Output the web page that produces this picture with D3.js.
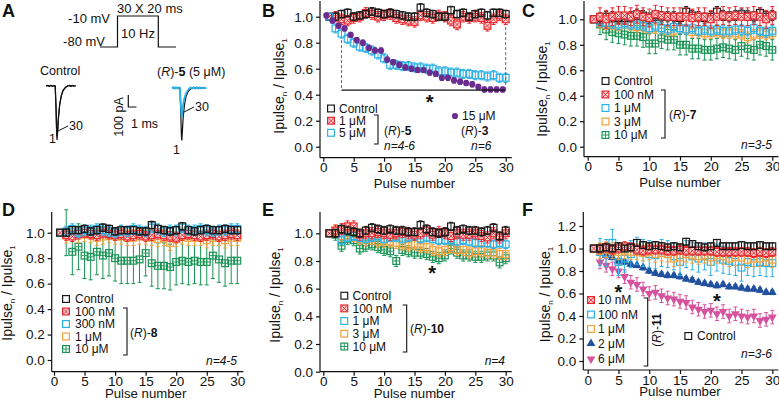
<!DOCTYPE html>
<html>
<head>
<meta charset="utf-8">
<script src="https://cdn.jsdelivr.net/npm/d3@7"></script>
<style>
  body { margin: 0; background: #fff; }
  text { font-family: "Liberation Sans", Arial, sans-serif; fill: #111; }
</style>
</head>
<body>
<svg id="fig" width="779" height="401"></svg>
<script>
const pulses = d3.range(1, 31)
const xTicks = [0, 5, 10, 15, 20, 25, 30]
const yTicks = [0, 0.2, 0.4, 0.6, 0.8, 1.0]
const yTicksF = [0, 0.2, 0.4, 0.6, 0.8, 1.0, 1.2]

// panel B
const bControl = [1.00,1.00,1.02,1.03,1.00,1.01,1.02,1.04,1.03,1.02,1.03,1.02,1.01,1.00,1.00,1.07,1.03,1.02,1.00,1.00,1.05,1.02,1.03,1.00,1.02,1.03,1.01,1.03,1.03,1.02]
const bR5_1uM = [1.00,1.00,0.98,0.97,0.99,1.00,1.03,1.02,1.00,1.01,1.02,0.99,0.98,0.97,0.96,1.01,1.00,0.99,1.01,1.00,0.97,0.94,1.00,0.99,1.00,0.99,0.93,0.98,1.01,0.98]
const bR5_5uM = [1.00,0.91,0.87,0.83,0.80,0.77,0.76,0.74,0.71,0.68,0.63,0.63,0.62,0.62,0.61,0.61,0.60,0.60,0.58,0.58,0.57,0.57,0.56,0.56,0.55,0.55,0.54,0.55,0.53,0.53]
const bR3_15uM = [1.01,0.97,0.93,0.91,0.86,0.82,0.80,0.76,0.74,0.74,0.67,0.65,0.63,0.61,0.60,0.59,0.59,0.57,0.56,0.53,0.53,0.51,0.50,0.49,0.48,0.46,0.44,0.44,0.44,0.44]

// panel C
const cControl = [1.00,1.01,1.02,1.02,1.01,1.01,1.02,1.04,1.03,1.01,1.03,1.02,1.02,1.02,1.01,1.06,1.03,1.02,1.01,1.02,1.06,1.03,1.02,1.03,1.04,1.03,1.02,1.05,1.02,1.03]
const cR7_100nM = [1.00,1.02,1.00,1.02,1.03,1.03,1.02,1.04,1.02,1.01,1.04,1.03,1.02,1.02,1.02,1.02,1.01,1.02,1.02,1.00,1.02,1.03,1.02,1.03,1.02,1.02,1.03,1.02,1.00,1.03]
const cR7_1uM = [1.00,0.98,0.97,0.97,0.96,0.97,0.96,0.96,0.95,0.93,0.95,0.93,0.92,0.94,0.93,0.92,0.93,0.91,0.92,0.91,0.92,0.91,0.91,0.92,0.92,0.91,0.93,0.91,0.90,0.91]
const cR7_3uM = [1.00,0.97,0.96,0.96,0.95,0.97,0.95,0.94,0.94,0.92,0.93,0.93,0.91,0.91,0.93,0.92,0.90,0.90,0.89,0.89,0.90,0.89,0.89,0.89,0.88,0.86,0.88,0.89,0.88,0.89]
const cR7_10uM = [1.00,0.96,0.92,0.90,0.89,0.88,0.87,0.87,0.86,0.81,0.81,0.85,0.84,0.84,0.80,0.80,0.77,0.77,0.76,0.76,0.77,0.78,0.77,0.76,0.79,0.77,0.76,0.80,0.79,0.76]

// panel D
const dControl = [1.00,1.00,1.02,1.02,1.03,1.01,1.02,1.04,1.03,1.01,1.02,1.02,1.02,1.01,1.01,1.06,1.03,1.02,1.01,1.02,1.05,1.02,1.01,1.02,1.03,1.02,1.02,1.03,1.02,1.02]
const dR8_100nM = [1.00,0.98,0.97,0.99,1.00,0.99,0.98,1.00,0.99,0.98,0.99,0.97,0.98,0.99,0.97,0.98,0.99,0.98,0.97,0.96,0.98,0.99,0.98,0.97,0.98,0.99,0.97,0.98,0.99,0.98]
const dR8_300nM = [1.00,1.01,1.03,1.00,1.02,1.02,1.03,1.02,1.01,1.00,1.02,1.01,1.03,1.02,1.01,1.04,1.03,1.01,1.02,1.02,1.04,1.02,1.02,1.03,1.02,1.01,1.02,1.02,1.03,1.03]
const dR8_1uM = [1.00,0.98,0.99,0.98,0.99,0.98,0.96,0.97,0.98,0.97,0.97,0.96,0.96,0.97,0.97,0.96,0.95,0.96,0.92,0.95,0.97,0.96,0.96,0.96,0.94,0.96,0.96,0.94,0.96,0.96]
const dR8_10uM = [1.00,1.00,0.85,0.89,0.82,0.81,0.85,0.82,0.84,0.80,0.78,0.78,0.78,0.79,0.84,0.76,0.74,0.74,0.73,0.77,0.78,0.77,0.78,0.77,0.77,0.82,0.79,0.76,0.78,0.78]

// panel E
const eControl = [1.00,1.00,1.03,1.02,1.01,1.00,1.02,1.04,1.03,1.02,1.03,1.02,1.02,1.01,1.01,1.06,1.03,1.01,1.00,1.01,1.05,1.02,1.03,1.02,1.02,1.01,1.02,1.04,0.98,1.02]
const eR10_100nM = [1.00,1.02,1.03,1.05,1.05,0.99,1.00,1.00,1.01,1.00,0.99,1.00,1.01,1.00,0.99,1.00,1.02,0.99,1.01,1.00,0.98,1.00,0.99,0.99,1.00,0.98,0.97,1.00,0.97,1.00]
const eR10_1uM = [1.00,1.00,0.95,0.97,0.98,0.97,0.96,0.97,0.98,0.96,0.97,0.97,0.96,0.97,0.98,0.96,0.97,0.96,0.95,0.95,0.95,0.94,0.95,0.94,0.93,0.93,0.93,0.92,0.93,0.92]
const eR10_3uM = [1.00,1.02,0.98,1.00,0.98,0.96,0.95,0.96,0.94,0.94,0.94,0.93,0.92,0.91,0.92,0.90,0.90,0.88,0.87,0.88,0.90,0.88,0.88,0.86,0.87,0.87,0.86,0.86,0.85,0.85]
const eR10_10uM = [1.00,0.99,0.91,0.96,0.95,0.89,0.91,0.92,0.90,0.88,0.87,0.80,0.88,0.87,0.86,0.86,0.85,0.83,0.82,0.84,0.89,0.86,0.84,0.84,0.83,0.83,0.84,0.84,0.79,0.82]

// panel F
const fControl = [1.00,1.00,1.01,1.00,1.02,1.00,1.01,1.05,1.03,1.02,1.03,1.02,1.01,1.02,1.01,1.06,1.04,1.02,1.01,1.02,1.05,1.02,1.02,1.02,1.03,1.02,1.02,1.03,1.02,1.02]
const fR11_10nM = [1.00,1.00,1.01,0.99,1.00,1.02,1.01,0.99,0.98,0.99,0.99,0.99,0.98,0.98,0.99,0.98,0.98,0.98,0.98,0.98,0.97,0.97,0.97,0.97,0.97,0.97,0.96,0.97,0.96,0.97]
const fR11_100nM = [1.00,0.97,0.96,1.05,0.88,0.91,0.95,0.98,0.96,0.95,0.94,0.96,0.95,0.93,0.88,0.95,0.93,0.91,0.93,0.88,0.92,0.90,0.89,0.88,0.83,0.88,0.87,0.88,0.87,0.87]
const fR11_1uM = [1.00,0.98,0.99,0.98,0.97,0.98,0.97,0.97,0.96,0.97,0.95,0.96,0.95,0.91,0.92,0.95,0.94,0.93,0.94,0.92,0.94,0.93,0.91,0.92,0.92,0.90,0.91,0.91,0.92,0.90]
const fR11_2uM = [1.00,0.96,0.94,0.92,0.89,0.88,0.86,0.85,0.83,0.80,0.78,0.77,0.76,0.76,0.75,0.73,0.72,0.70,0.69,0.68,0.67,0.68,0.66,0.66,0.65,0.64,0.64,0.63,0.61,0.61]
const fR11_6uM = [1.00,0.88,0.85,0.82,0.80,0.75,0.70,0.68,0.64,0.60,0.61,0.58,0.56,0.55,0.53,0.52,0.48,0.46,0.44,0.45,0.42,0.44,0.40,0.42,0.40,0.39,0.40,0.36,0.37,0.39]

// panel A example traces: [time ms, current pA]
const ctrlTrace1 = [[0,0],[0.2,6],[0.4,-2],[0.6,5],[0.8,-3],[1.0,4],[1.15,0],[1.25,-200],[1.32,-420],[1.38,-505],[1.46,-420],[1.55,-300],[1.7,-180],[1.9,-95],[2.1,-45],[2.4,-15],[2.7,0],[2.9,6],[3.1,-2],[3.3,5],[3.5,-1],[3.7,3]]
const ctrlTrace30 = [[0,0],[0.2,5],[0.4,-3],[0.6,6],[0.8,-2],[1.0,3],[1.15,0],[1.25,-190],[1.33,-400],[1.39,-470],[1.47,-400],[1.56,-290],[1.72,-170],[1.92,-90],[2.15,-40],[2.45,-12],[2.75,2],[2.95,5],[3.15,-3],[3.35,4],[3.55,0],[3.7,2]]
const r5Trace1 = [[0,0],[0.2,4],[0.4,-2],[0.6,3],[0.85,0],[1.0,0],[1.1,-250],[1.18,-450],[1.23,-490],[1.3,-400],[1.4,-270],[1.55,-160],[1.75,-80],[2.0,-35],[2.3,-10],[2.6,0],[3.0,3],[3.5,-2],[4.0,1],[4.2,0]]
const r5Trace30 = [[0,0],[0.2,8],[0.35,-6],[0.5,7],[0.7,-5],[0.85,6],[1.0,0],[1.1,-150],[1.18,-250],[1.23,-275],[1.3,-220],[1.4,-150],[1.55,-95],[1.75,-50],[2.0,-20],[2.3,5],[2.5,-6],[2.7,8],[2.9,-5],[3.1,7],[3.3,-6],[3.5,6],[3.7,-4],[3.9,5],[4.1,-3],[4.3,2]]

const col = {
  black: '#1a1a1a', red: '#e8262d', cyan: '#2cb1e6', orange: '#f2a23e',
  green: '#199455', purple: '#6b2c90', blue: '#21509f', magenta: '#d6529e'
}

const svg = d3.select('#fig')

function rich(sel, parts) {
  parts.forEach(([t, s]) => {
    const ts = sel.append('tspan').text(t)
    if (s === 'i') ts.attr('font-style', 'italic')
    if (s === 'b') ts.attr('font-weight', 'bold')
  })
  return sel
}

function marker(g, type, color, cx, cy) {
  const s = 3.4
  if (type === 'dot') {
    g.append('circle').attr('cx', cx).attr('cy', cy).attr('r', 3.1).attr('fill', color)
  } else if (type === 'tri' || type === 'trid') {
    g.append('path').attr('d', d3.symbol(d3.symbolTriangle, 34)())
      .attr('transform', `translate(${cx},${cy})${type === 'trid' ? ' rotate(180)' : ''}`)
      .attr('fill', color)
  } else {
    g.append('rect').attr('x', cx - s).attr('y', cy - s).attr('width', 2 * s).attr('height', 2 * s)
      .attr('fill', type === 'sqx' ? '#fcd3d3' : 'none').attr('stroke', color).attr('stroke-width', 1.2)
    if (type === 'sqx') g.append('path')
      .attr('d', `M${cx - s},${cy - s}L${cx + s},${cy + s}M${cx + s},${cy - s}L${cx - s},${cy + s}`)
      .attr('stroke', color).attr('stroke-width', 0.9)
    if (type === 'sqp') g.append('path')
      .attr('d', `M${cx - s},${cy}H${cx + s}M${cx},${cy - s}V${cy + s}`)
      .attr('stroke', color).attr('stroke-width', 0.9)
  }
}

function drawSeries(g, x, y, s) {
  const sg = g.append('g')
  s.vals.forEach((v, i) => {
    const e = s.err
    const px = x(pulses[i] + (s.dx || 0))
    if (i > 0 && e > 0) {
      sg.append('path')
        .attr('d', `M${px},${y(v + e)}V${y(v - e)}M${px - 2},${y(v + e)}H${px + 2}M${px - 2},${y(v - e)}H${px + 2}`)
        .attr('stroke', s.color).attr('stroke-width', 1).attr('fill', 'none')
    }
  })
  s.vals.forEach((v, i) => marker(sg, s.type, s.color, x(pulses[i] + (s.dx || 0)), y(v)))
}

function panel(cfg) {
  const g = svg.append('g')
  const x = d3.scaleLinear().domain([0, 30]).range(cfg.xr)
  const y = d3.scaleLinear().domain([0, 1]).range([cfg.y0, cfg.y1])

  g.append('line').attr('x1', cfg.ax).attr('x2', cfg.ax).attr('y1', cfg.top).attr('y2', cfg.xy)
    .attr('stroke', '#111').attr('stroke-width', 1.2)
  g.append('line').attr('x1', cfg.ax).attr('x2', x(31)).attr('y1', cfg.xy).attr('y2', cfg.xy)
    .attr('stroke', '#111').attr('stroke-width', 1.2)

  const ya = g.append('g').attr('transform', `translate(${cfg.ax},0)`)
    .call(d3.axisLeft(y).tickValues(cfg.yt).tickFormat(d3.format('.1f')).tickSize(4).tickPadding(3))
  const xa = g.append('g').attr('transform', `translate(0,${cfg.xy})`)
    .call(d3.axisBottom(x).tickValues(xTicks).tickSize(4).tickPadding(1))
  ;[ya, xa].forEach(a => {
    a.select('.domain').remove()
    a.selectAll('line').attr('stroke', '#111').attr('stroke-width', 1.2)
    a.selectAll('text').attr('font-size', 13.5).attr('fill', '#111')
      .attr('font-family', '"Liberation Sans", Arial, sans-serif')
  })

  g.append('text').attr('x', (cfg.xr[0] + cfg.xr[1]) / 2).attr('y', cfg.xy + cfg.xlOff)
    .attr('text-anchor', 'middle').attr('font-size', 13.2).text('Pulse number')

  const yl = g.append('text').attr('text-anchor', 'middle').attr('font-size', 14)
    .attr('transform', `translate(${cfg.ax - cfg.ylOff},${cfg.ylY}) rotate(-90)`)
  yl.append('tspan').text('Ipulse')
  yl.append('tspan').text('n').attr('font-size', 8).attr('dy', 3)
  yl.append('tspan').text(' / Ipulse').attr('dy', -3)
  yl.append('tspan').text('1').attr('font-size', 8).attr('dy', 3)

  svg.append('text').attr('x', cfg.lx).attr('y', cfg.ly).attr('font-size', 18)
    .attr('font-weight', 'bold').text(cfg.id)

  cfg.series.forEach(s => drawSeries(g, x, y, s))
  return { g, x, y }
}

function legend(g, rows, sx, tx, ys) {
  rows.forEach((r, i) => {
    marker(g, r.type, r.color, sx, ys[i])
    g.append('text').attr('x', tx).attr('y', ys[i]).attr('dy', '0.36em')
      .attr('font-size', 12).text(r.label)
  })
}

function bracket(g, x, y1, y2) {
  g.append('path').attr('d', `M${x - 4},${y1}H${x}V${y2}H${x - 4}`)
    .attr('fill', 'none').attr('stroke', '#111').attr('stroke-width', 1.1)
}

function star(g, px, py) {
  g.append('text').attr('x', px).attr('y', py + 11).attr('text-anchor', 'middle')
    .attr('font-size', 20).attr('font-weight', 'bold').text('*')
}

function note(g, x, y, parts, anchor) {
  rich(g.append('text').attr('x', x).attr('y', y).attr('dy', '0.36em')
    .attr('font-size', 12).attr('text-anchor', anchor || 'start'), parts)
}

// ---------- Panel A ----------
const gA = svg.append('g')
svg.append('text').attr('x', 2).attr('y', 17).attr('font-size', 18).attr('font-weight', 'bold').text('A')
gA.append('path').attr('d', 'M100,47H117.5V16H158.3V47H176')
  .attr('fill', 'none').attr('stroke', '#111').attr('stroke-width', 1.2)
gA.append('text').attr('x', 110).attr('y', 23).attr('text-anchor', 'end').attr('font-size', 13).text('-10 mV')
gA.append('text').attr('x', 105).attr('y', 46).attr('text-anchor', 'end').attr('font-size', 13).text('-80 mV')
gA.append('text').attr('x', 117).attr('y', 13).attr('font-size', 13).text('30 X 20 ms')
gA.append('text').attr('x', 121).attr('y', 38).attr('font-size', 13).text('10 Hz')

gA.append('text').attr('x', 40).attr('y', 75).attr('font-size', 12.5).text('Control')
rich(gA.append('text').attr('x', 157).attr('y', 76).attr('font-size', 12.5),
  [['(', ''], ['R', 'i'], [')-', ''], ['5', 'b'], [' (5 μM)', '']])

const tScale = d3.scaleLinear().domain([0, 1]).range([0, 8])
const iScale = d3.scaleLinear().domain([0, 100]).range([0, -10.7])
const traceLine = (x0, y0) => d3.line().x(d => x0 + tScale(d[0])).y(d => y0 + iScale(d[1]))

gA.append('path').attr('d', traceLine(46, 86)(ctrlTrace30)).attr('fill', 'none').attr('stroke', '#111').attr('stroke-width', 1.2)
gA.append('path').attr('d', traceLine(46, 86)(ctrlTrace1)).attr('fill', 'none').attr('stroke', '#111').attr('stroke-width', 1.2)
gA.append('path').attr('d', traceLine(172, 88)(r5Trace1)).attr('fill', 'none').attr('stroke', '#111').attr('stroke-width', 1.2)
gA.append('path').attr('d', traceLine(172, 88)(r5Trace30)).attr('fill', 'none').attr('stroke', col.cyan).attr('stroke-width', 1.8)

gA.append('text').attr('x', 49).attr('y', 143).attr('font-size', 12.5).text('1')
gA.append('path').attr('d', 'M58,131L68,126').attr('stroke', '#111')
gA.append('text').attr('x', 69).attr('y', 130).attr('font-size', 12.5).text('30')
gA.append('text').attr('x', 173).attr('y', 154).attr('font-size', 12.5).text('1')
gA.append('path').attr('d', 'M184,112L194,107').attr('stroke', '#111')
gA.append('text').attr('x', 195).attr('y', 111).attr('font-size', 12.5).text('30')

gA.append('path').attr('d', 'M128.3,95V107H136.5').attr('fill', 'none').attr('stroke', '#111').attr('stroke-width', 1.2)
gA.append('text').attr('transform', 'translate(123,117) rotate(-90)').attr('text-anchor', 'middle')
  .attr('font-size', 12.5).text('100 pA')
gA.append('text').attr('x', 131).attr('y', 128).attr('font-size', 12.5).text('1 ms')

// ---------- Panel B ----------
const B = panel({
  id: 'B', lx: 262, ly: 17, xr: [323.3, 505.7], ax: 320, y0: 146.7, y1: 16.7, xy: 157.7, top: 1, yt: yTicks,
  ylOff: 36, ylY: 86, xlOff: 30,
  series: [
    { vals: bR5_1uM, err: 0.04, color: col.red, type: 'sqx' },
    { vals: bControl, err: 0.03, color: col.black, type: 'sq' },
    { vals: bR5_5uM, err: 0.035, color: col.cyan, type: 'sq' },
    { vals: bR3_15uM, err: 0.02, color: col.purple, type: 'dot', dx: -0.5 }
  ]
})
{
  const { g, x, y } = B
  g.append('path').attr('d', `M${x(3)},${y(0.82)}V${y(0.435)}M${x(30)},${y(0.92)}V${y(0.435)}`)
    .attr('stroke', '#666').attr('stroke-dasharray', '3,2').attr('fill', 'none')
  g.append('line').attr('x1', x(3)).attr('x2', x(30)).attr('y1', y(0.435)).attr('y2', y(0.435))
    .attr('stroke', '#111').attr('stroke-width', 1.1)
  star(g, x(17.5), y(0.375))
  legend(g, [
    { type: 'sq', color: col.black, label: 'Control' },
    { type: 'sqx', color: col.red, label: '1 μM' },
    { type: 'sq', color: col.cyan, label: '5 μM' }
  ], 331, 339, [108.5, 120.7, 132.8])
  bracket(g, 378, 115, 144)
  note(g, 384, 130.5, [['(', ''], ['R', 'i'], [')-', ''], ['5', 'b']])
  note(g, 384, 145.5, [['n=4-6', 'i']])
  marker(g, 'dot', col.purple, 455, 116)
  note(g, 462, 116, [['15 μM', '']])
  note(g, 461, 130.5, [['(', ''], ['R', 'i'], [')-', ''], ['3', 'b']])
  note(g, 471, 145.5, [['n=6', 'i']])
}

// ---------- Panel C ----------
const C = panel({
  id: 'C', lx: 522, ly: 17, xr: [587.7, 772.3], ax: 584, y0: 146.7, y1: 19.3, xy: 156.7, top: 1, yt: yTicks,
  ylOff: 37, ylY: 89, xlOff: 30,
  series: [
    { vals: cR7_10uM, err: 0.08, color: col.green, type: 'sqp' },
    { vals: cR7_3uM, err: 0.04, color: col.orange, type: 'sq' },
    { vals: cR7_1uM, err: 0.04, color: col.cyan, type: 'sq' },
    { vals: cControl, err: 0.04, color: col.black, type: 'sq' },
    { vals: cR7_100nM, err: 0.07, color: col.red, type: 'sqx' }
  ]
})
{
  const { g } = C
  legend(g, [
    { type: 'sq', color: col.black, label: 'Control' },
    { type: 'sqx', color: col.red, label: '100 nM' },
    { type: 'sq', color: col.cyan, label: '1 μM' },
    { type: 'sq', color: col.orange, label: '3 μM' },
    { type: 'sqp', color: col.green, label: '10 μM' }
  ], 605.5, 614, [81, 94.5, 108, 121.5, 135])
  bracket(g, 665, 90, 138)
  note(g, 669, 115, [['(', ''], ['R', 'i'], [')-', ''], ['7', 'b']])
  note(g, 772, 145, [['n=3-5', 'i']], 'end')
}

// ---------- Panel D ----------
const D = panel({
  id: 'D', lx: 2, ly: 216, xr: [54, 237.3], ax: 51.7, y0: 360, y1: 232.7, xy: 371.7, top: 212, yt: yTicks,
  ylOff: 40, ylY: 293, xlOff: 26,
  series: [
    { vals: dR8_10uM, err: 0.18, color: col.green, type: 'sqp' },
    { vals: dR8_1uM, err: 0.06, color: col.orange, type: 'sq' },
    { vals: dR8_100nM, err: 0.04, color: col.red, type: 'sqx' },
    { vals: dR8_300nM, err: 0.04, color: col.cyan, type: 'sq' },
    { vals: dControl, err: 0.03, color: col.black, type: 'sq' }
  ]
})
{
  const { g } = D
  legend(g, [
    { type: 'sq', color: col.black, label: 'Control' },
    { type: 'sqx', color: col.red, label: '100 nM' },
    { type: 'sq', color: col.cyan, label: '300 nM' },
    { type: 'sq', color: col.orange, label: '1 μM' },
    { type: 'sqp', color: col.green, label: '10 μM' }
  ], 66, 75, [299, 311.5, 324, 336.5, 349])
  bracket(g, 127, 308, 355)
  note(g, 130, 333, [['(', ''], ['R', 'i'], [')-', ''], ['8', 'b']])
  note(g, 237, 360.5, [['n=4-5', 'i']], 'end')
}

// ---------- Panel E ----------
const E = panel({
  id: 'E', lx: 262, ly: 216, xr: [323.3, 505.7], ax: 320, y0: 371.7, y1: 233.3, xy: 371.7, top: 212, yt: yTicks,
  ylOff: 40, ylY: 295, xlOff: 26,
  series: [
    { vals: eR10_10uM, err: 0.04, color: col.green, type: 'sqp' },
    { vals: eR10_3uM, err: 0.04, color: col.orange, type: 'sq' },
    { vals: eR10_1uM, err: 0.03, color: col.cyan, type: 'sq' },
    { vals: eR10_100nM, err: 0.04, color: col.red, type: 'sqx' },
    { vals: eControl, err: 0.03, color: col.black, type: 'sq' }
  ]
})
{
  const { g, x, y } = E
  legend(g, [
    { type: 'sq', color: col.black, label: 'Control' },
    { type: 'sqx', color: col.red, label: '100 nM' },
    { type: 'sq', color: col.cyan, label: '1 μM' },
    { type: 'sq', color: col.orange, label: '3 μM' },
    { type: 'sqp', color: col.green, label: '10 μM' }
  ], 344.3, 352.5, [295.7, 308.4, 321, 333.7, 346.5])
  bracket(g, 406.7, 305, 352)
  note(g, 410, 329, [['(', ''], ['R', 'i'], [')-', ''], ['10', 'b']])
  note(g, 505, 361, [['n=4', 'i']], 'end')
  star(g, x(17.9), y(0.74))
}

// ---------- Panel F ----------
const F = panel({
  id: 'F', lx: 522, ly: 216, xr: [587.7, 772.3], ax: 583.3, y0: 361, y1: 248.5, xy: 370, top: 212, yt: yTicksF,
  ylOff: 33, ylY: 294.5, xlOff: 26,
  series: [
    { vals: fR11_6uM, err: 0.06, color: col.magenta, type: 'trid' },
    { vals: fR11_2uM, err: 0.02, color: col.blue, type: 'tri' },
    { vals: fR11_100nM, err: 0.12, color: col.cyan, type: 'sq' },
    { vals: fR11_1uM, err: 0.07, color: col.orange, type: 'sq' },
    { vals: fR11_10nM, err: 0.04, color: col.red, type: 'sqx' },
    { vals: fControl, err: 0.03, color: col.black, type: 'sq' }
  ]
})
{
  const { g, x, y } = F
  legend(g, [
    { type: 'sqx', color: col.red, label: '10 nM' },
    { type: 'sq', color: col.cyan, label: '100 nM' },
    { type: 'sq', color: col.orange, label: '1 μM' },
    { type: 'tri', color: col.blue, label: '2 μM' },
    { type: 'trid', color: col.magenta, label: '6 μM' }
  ], 591, 598, [300, 314.5, 329, 343.5, 359])
  bracket(g, 647.7, 298, 366)
  rich(g.append('text').attr('transform', 'translate(657,330) rotate(-90)').attr('dy', '0.36em')
    .attr('text-anchor', 'middle').attr('font-size', 12), [['(', ''], ['R', 'i'], [')-', ''], ['11', 'b']])
  marker(g, 'sq', col.black, 688.3, 336)
  note(g, 697, 336, [['Control', '']])
  note(g, 772, 353.5, [['n=3-6', 'i']], 'end')
  star(g, x(5.0), y(0.646))
  star(g, x(21.0), y(0.57))
}
</script>
</body>
</html>
